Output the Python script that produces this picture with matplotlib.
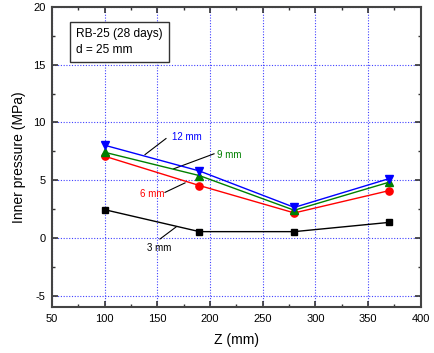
import matplotlib
matplotlib.use("Agg")
import matplotlib.pyplot as plt
from matplotlib.ticker import MultipleLocator

plt.rcParams['font.family'] = ['Liberation Sans', 'DejaVu Sans']
plt.rcParams['axes.unicode_minus'] = False

z = [100, 190, 280, 370]
p_3mm = [2.45, 0.55, 0.55, 1.35]
p_6mm = [7.08, 4.54, 2.17, 4.10]
p_9mm = [7.42, 5.40, 2.40, 4.83]
p_12mm = [8.03, 5.80, 2.65, 5.14]

series = [
    ("3 mm", p_3mm, "black", "s", 5.0),
    ("6 mm", p_6mm, "red", "o", 5.2),
    ("9 mm", p_9mm, "green", "^", 5.5),
    ("12 mm", p_12mm, "blue", "v", 5.5),
]

fig = plt.figure(figsize=(4.34, 3.53), dpi=100)
ax = fig.add_axes([0.1198, 0.1295, 0.8496, 0.8507])

for label, vals, col, mk, ms in series:
    ax.plot(z, vals, color=col, marker=mk, markersize=ms, linewidth=1.0,
            markeredgecolor=col, zorder=3)

ax.set_xlim(50, 400)
ax.set_ylim(-6, 20)
ax.xaxis.set_major_locator(MultipleLocator(50))
ax.xaxis.set_minor_locator(MultipleLocator(25))
ax.yaxis.set_major_locator(MultipleLocator(5))
ax.yaxis.set_minor_locator(MultipleLocator(2.5))

ax.grid(True, which='major', color='blue', linestyle=(0, (1, 1.5)), linewidth=0.8, alpha=0.75)
ax.tick_params(which='both', direction='in', top=True, right=True, colors='#333333',
               labelcolor='black', labelsize=8)
ax.tick_params(which='major', length=4, width=1.2, pad=4.5)
ax.tick_params(which='minor', length=2.5, width=1.0)
for s in ax.spines.values():
    s.set_color('#444444')
    s.set_linewidth(1.5)

ax.set_xlabel("Z (mm)", fontsize=10, labelpad=7)
ax.set_ylabel("Inner pressure (MPa)", fontsize=10, labelpad=5)

# curve labels with leader lines
ann = [
    ("12 mm", "blue", (163.6, 8.76), (138.3, 7.22), (158.2, 8.61), 'left'),
    ("9 mm", "green", (206.3, 7.22), (165.2, 5.98), (203.8, 7.29), 'left'),
    ("6 mm", "red", (144.9, 3.84), (157.3, 3.95), (176.3, 4.77), 'center'),
    ("3 mm", "black", (151.6, -0.85), (152.5, -0.09), (167.7, 0.95), 'center'),
]
for txt, col, tpos, p0, p1, ha in ann:
    ax.plot([p0[0], p1[0]], [p0[1], p1[1]], color='black', linewidth=0.8, zorder=2)
    ax.text(tpos[0], tpos[1], txt, color=col, fontsize=7, ha=ha, va='center')

ax.text(0.066, 0.93, "RB-25 (28 days)\nd = 25 mm", transform=ax.transAxes,
        fontsize=8.6, va='top', ha='left', linespacing=1.45,
        bbox=dict(boxstyle='square,pad=0.5', facecolor='white', edgecolor='#333333', linewidth=1.0))

fig.savefig("out.png", dpi=100)
